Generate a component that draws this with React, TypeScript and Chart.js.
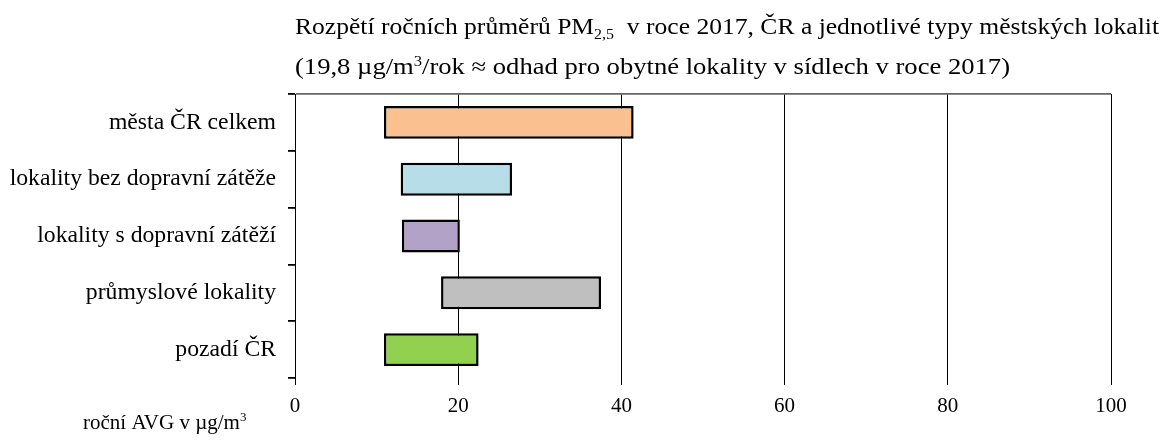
import React, { useEffect, useRef } from "react";
import { Chart, registerables } from "chart.js";

Chart.register(...registerables);

const categories = [
  "města ČR celkem",
  "lokality bez dopravní zátěže",
  "lokality s dopravní zátěží",
  "průmyslové lokality",
  "pozadí ČR",
];
const minValues = [10.9, 12.95, 13.1, 17.9, 10.9];
const maxValues = [41.5, 26.6, 20.2, 37.5, 22.5];
const barColors = ["#FAC090", "#B7DEE8", "#B3A2C7", "#BFBFBF", "#92D050"];
const xTicks = [0, 20, 40, 60, 80, 100];

const titleLine1 = [
  { text: "Rozpětí ročních průměrů PM", kind: "n" },
  { text: "2,5", kind: "sub" },
  { text: "  v roce 2017, ČR a jednotlivé typy městských lokalit", kind: "n" },
];
const titleLine2 = [
  { text: "(19,8 µg/m", kind: "n" },
  { text: "3", kind: "sup" },
  { text: "/rok ≈ odhad pro obytné lokality v sídlech v roce 2017)", kind: "n" },
];
const unitLabel = [
  { text: "roční AVG v µg/m", kind: "n" },
  { text: "3", kind: "sup" },
];

const FONT = '"Liberation Serif", "Times New Roman", serif';

type Part = { text: string; kind: string };

function partStyle(kind: string, size: number) {
  if (kind === "sub") return { s: Math.round(size * 0.62), dy: size * 0.22 };
  if (kind === "sup") return { s: Math.round(size * 0.62), dy: -size * 0.36 };
  return { s: size, dy: 0 };
}

function measureRich(ctx: CanvasRenderingContext2D, parts: Part[], size: number) {
  let w = 0;
  for (const p of parts) {
    const { s } = partStyle(p.kind, size);
    ctx.font = `${s}px ${FONT}`;
    w += ctx.measureText(p.text).width;
  }
  return w;
}

function drawRich(ctx: CanvasRenderingContext2D, x: number, y: number, parts: Part[], size: number, targetRight?: number) {
  ctx.save();
  let sx = 1;
  if (targetRight) {
    const w = measureRich(ctx, parts, size);
    sx = (targetRight - x) / w;
  }
  ctx.translate(x, y);
  ctx.scale(sx, 1);
  let cx = 0;
  ctx.textAlign = "left";
  ctx.textBaseline = "alphabetic";
  ctx.fillStyle = "#000";
  for (const p of parts) {
    const { s, dy } = partStyle(p.kind, size);
    ctx.font = `${s}px ${FONT}`;
    ctx.fillText(p.text, cx, dy);
    cx += ctx.measureText(p.text).width;
  }
  ctx.restore();
}

const textPlugin = {
  id: "richText",
  afterDraw(chart: any) {
    const ctx = chart.ctx as CanvasRenderingContext2D;
    drawRich(ctx, 295, 34, titleLine1, 22.5, 1159);
    drawRich(ctx, 295, 74, titleLine2, 22.5, 1010);
    drawRich(ctx, 83, 429, unitLabel, 21);
  },
};

export default function App() {
  const ref = useRef<HTMLCanvasElement | null>(null);
  useEffect(() => {
    if (!ref.current) return;
    const last = categories.length;
    const chart = new Chart(ref.current, {
      type: "bar",
      data: {
        labels: categories,
        datasets: [
          {
            data: categories.map((_, i) => [minValues[i], maxValues[i]]) as any,
            backgroundColor: barColors,
            borderColor: "#000",
            borderWidth: 2.5,
            borderSkipped: false,
            barPercentage: 0.58,
            categoryPercentage: 1,
          },
        ],
      },
      options: {
        indexAxis: "y",
        responsive: false,
        animation: false,
        layout: { padding: { left: 0, right: 53, top: 94, bottom: 0 } },
        plugins: { legend: { display: false }, tooltip: { enabled: false }, title: { display: false } },
        scales: {
          x: {
            type: "linear",
            min: 0,
            max: 100,
            afterBuildTicks: (s: any) => { s.ticks = xTicks.map((v) => ({ value: v })); },
            afterFit: (s: any) => { s.height = 63; },
            border: { display: false },
            grid: {
              color: (c: any) => (c.tick && c.tick.value === 0 ? "transparent" : "#000"),
              tickColor: "#000",
              lineWidth: 1,
              tickLength: 7,
            },
            ticks: {
              color: "#000",
              font: { family: FONT, size: 21 },
              padding: 9,
              maxRotation: 0,
            },
          },
          y: {
            type: "category",
            afterFit: (s: any) => { s.width = 295; },
            border: { display: true, color: "#000", width: 1 },
            grid: {
              offset: true,
              color: (c: any) => (c.index === 0 || c.index === last ? "#666" : "transparent"),
              tickColor: "#000",
              lineWidth: 1.8,
              tickLength: 7,
              drawOnChartArea: true,
            },
            ticks: {
              color: "#000",
              font: { family: FONT, size: 23.7 },
              padding: 12,
            },
          },
        },
      },
      plugins: [textPlugin],
    } as any);
    return () => chart.destroy();
  }, []);
  return (
    <div style={{ position: "fixed", left: 0, top: 0, width: 1164, height: 441, background: "#fff" }}>
      <canvas ref={ref} width={1164} height={441} style={{ display: "block" }} />
    </div>
  );
}
